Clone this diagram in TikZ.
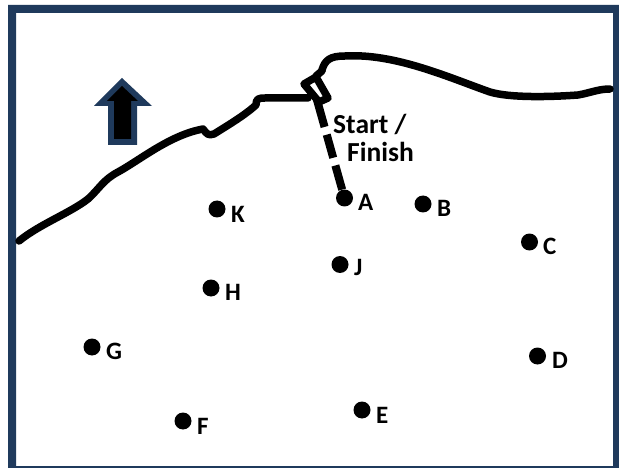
\documentclass[tikz,border=0pt]{standalone}
\usepackage{fontspec}
\setmainfont{Carlito}
\definecolor{navy}{HTML}{1F3A5C}
\tikzset{
  x=1pt,y=-1pt,
  stopdot/.style={circle,fill=black,minimum size=17pt,inner sep=0pt},
  stoplabel/.style={font=\bfseries\fontsize{25}{28}\selectfont,inner sep=0pt,text=black},
  startlabel/.style={font=\bfseries\fontsize{27.5}{30}\selectfont,inner sep=0pt,text=black},
  shore/.style={line width=7.5pt,line join=round,line cap=round,black},
  leg/.style={line width=8pt,black}
}
\begin{document}
\begin{tikzpicture}
\useasboundingbox (0,0) rectangle (619,468);
\fill[white] (0,0) rectangle (619,468);
\fill[navy,even odd rule] (8,5) rectangle (619,468) (16,13) rectangle (613,466);
% north arrow
\fill[navy] (122,78) -- (152,106) -- (137,106) -- (137,145) -- (108,145) -- (108,106) -- (94,106) -- cycle;
\fill[black] (122,86) -- (138,101) -- (131,101) -- (131,139) -- (114,139) -- (114,101) -- (107,101) -- cycle;
% shoreline
\draw[shore] (19,241) .. controls (40,224) and (70,213) .. (88,199) .. controls (100,188) and (103,180) .. (118,172)
 .. controls (140,160) and (170,135) .. (203,129) .. controls (207,134) and (208,136) .. (214,134)
 .. controls (230,124) and (245,115) .. (256,105) .. controls (256,99) and (258,98) .. (265,98)
 -- (308,98);
\draw[shore] (304,84) -- (316,77) -- (328,98) -- (319,102) -- cycle;
\draw[shore] (316,76) -- (322,71);
\draw[shore] (322,70) .. controls (325,60) and (330,56) .. (345,56) .. controls (395,53) and (450,78) .. (490,92)
 .. controls (510,98) and (550,97) .. (578,95) .. controls (590,93) and (598,89) .. (610,89);
% stops
\node[stopdot] (A) at (344.5,198) {};
\node[stopdot] (B) at (423,204) {};
\node[stopdot] (C) at (529.5,242) {};
\node[stopdot] (D) at (537.5,356) {};
\node[stopdot] (E) at (362,410) {};
\node[stopdot] (F) at (183,421) {};
\node[stopdot] (G) at (92,347) {};
\node[stopdot] (H) at (211,288) {};
\node[stopdot] (J) at (340,264.5) {};
\node[stopdot] (K) at (217,209) {};
\coordinate (gate) at (317,100);
\draw[leg,dash pattern=on 28pt off 8pt on 24pt off 8pt on 100pt] (gate) -- (A);
% labels
\node[stoplabel,anchor=west] (la) at (358,202) {A};
\node[stoplabel,anchor=west] (lb) at (437,208) {B};
\node[stoplabel,anchor=west] (lc) at (543,246) {C};
\node[stoplabel,anchor=west] (ld) at (552,360) {D};
\node[stoplabel,anchor=west] (le) at (376,415) {E};
\node[stoplabel,anchor=west] (lf) at (197,426) {F};
\node[stoplabel,anchor=west] (lg) at (106,351) {G};
\node[stoplabel,anchor=west] (lh) at (225,292) {H};
\node[stoplabel,anchor=west] (lj) at (354,267) {J};
\node[stoplabel,anchor=west] (lk) at (231,214) {K};
\node[startlabel,anchor=west] (s1) at (333,124) {Start /};
\node[startlabel,anchor=west] (s2) at (347,152) {Finish};
\end{tikzpicture}
\end{document}
